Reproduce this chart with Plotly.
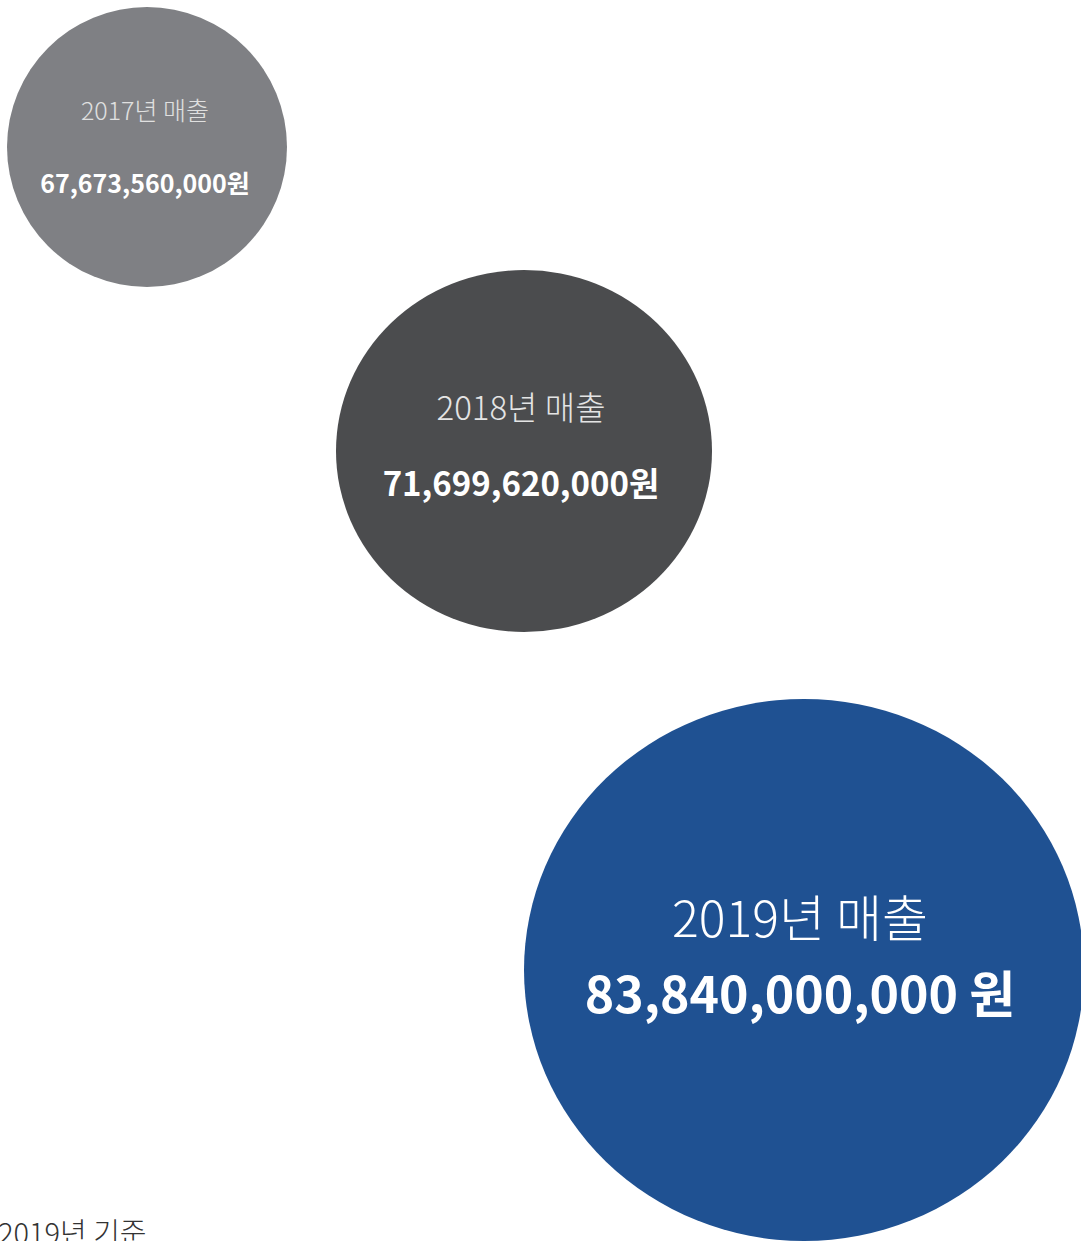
import plotly.graph_objects as go

# ---- data ----
years = ["2017", "2018", "2019"]
revenue_krw = [67673560000, 71699620000, 83840000000]
title_labels = ["2017년 매출", "2018년 매출", "2019년 매출"]
value_labels = ["67,673,560,000원", "71,699,620,000원", "83,840,000,000 원"]
footnote = "2019년 기준"

# ---- layout (pixel space) ----
W, H = 1081, 1241
circle_cx = [147, 524, 804]
circle_cy = [147, 451, 970]
circle_rx = [140, 188, 280]
circle_ry = [140, 181, 271]
circle_colors = ["#7f8084", "#4b4c4e", "#1f5192"]

title_x = [145, 521, 800]
title_y = [114, 412, 924]
title_size = [25, 33, 50]
title_color = ["#e0e0e0", "#e4e4e4", "#ffffff"]

value_x = [145, 521, 800]
value_y = [187, 488, 1000]
value_size = [25, 33, 50]

FONT = "Noto Sans CJK KR"

fig = go.Figure()

shapes = []
for i in range(len(years)):
    shapes.append(dict(
        type="circle", xref="x", yref="y",
        x0=circle_cx[i] - circle_rx[i], x1=circle_cx[i] + circle_rx[i],
        y0=circle_cy[i] - circle_ry[i], y1=circle_cy[i] + circle_ry[i],
        fillcolor=circle_colors[i], line=dict(width=0), layer="below",
    ))

for i in range(len(years)):
    fig.add_trace(go.Scatter(
        x=[title_x[i]], y=[title_y[i]], mode="text", text=[title_labels[i]],
        textposition="middle center",
        textfont=dict(family=FONT, size=title_size[i], color=title_color[i], weight=200),
        hoverinfo="skip", showlegend=False, cliponaxis=False,
    ))
    fig.add_trace(go.Scatter(
        x=[value_x[i]], y=[value_y[i]], mode="text", text=[value_labels[i]],
        textposition="middle center",
        textfont=dict(family=FONT, size=value_size[i], color="#ffffff", weight=700),
        hoverinfo="skip", showlegend=False, cliponaxis=False,
        customdata=[revenue_krw[i]],
    ))

fig.update_layout(
    width=W, height=H, margin=dict(l=0, r=0, t=0, b=0),
    paper_bgcolor="white", plot_bgcolor="white",
    shapes=shapes,
    annotations=[dict(
        text=footnote, xref="paper", yref="paper", x=0, y=0,
        xanchor="left", yanchor="bottom", xshift=-4, yshift=-13,
        showarrow=False,
        font=dict(family=FONT, size=29, color="#333333", weight=300),
    )],
    xaxis=dict(range=[0, W], visible=False, showgrid=False, zeroline=False, fixedrange=True),
    yaxis=dict(range=[H, 0], visible=False, showgrid=False, zeroline=False, fixedrange=True),
    hovermode=False,
)

fig.write_html("out.html", config={"displayModeBar": False})
